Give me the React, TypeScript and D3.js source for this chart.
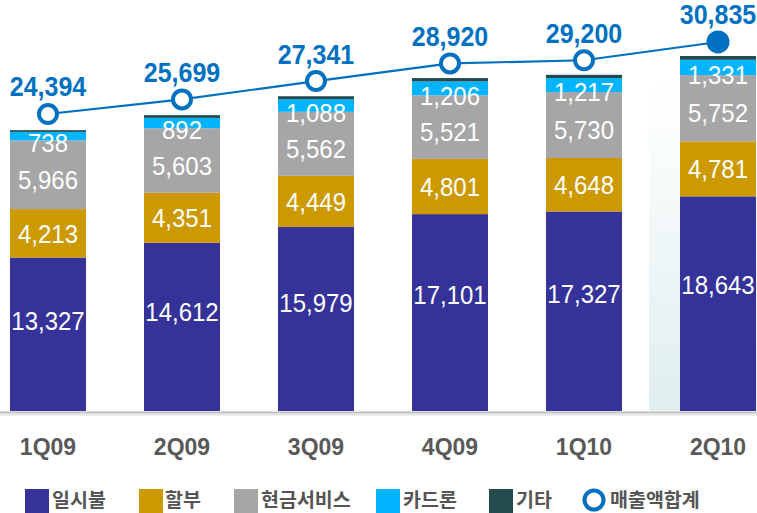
import React from 'react';
import * as d3 from 'd3';

const quarters = ['1Q09', '2Q09', '3Q09', '4Q09', '1Q10', '2Q10'];
const lumpSum = [13327, 14612, 15979, 17101, 17327, 18643]; // 일시불
const installment = [4213, 4351, 4449, 4801, 4648, 4781]; // 할부
const cashService = [5966, 5603, 5562, 5521, 5730, 5752]; // 현금서비스
const cardLoan = [738, 892, 1088, 1206, 1217, 1331]; // 카드론
const others = [150, 241, 263, 291, 278, 328]; // 기타
const totals = [24394, 25699, 27341, 28920, 29200, 30835]; // 매출액합계

const seriesNames = ['일시불', '할부', '현금서비스', '카드론', '기타'];
const seriesColors = ['#353399', '#CC9900', '#A6A6A6', '#00B4FF', '#234B4E'];
const lineName = '매출액합계';
const lineColor = '#0070C0';

const W = 757;
const H = 513;
const BASE = 411;

export default function App() {
  const x = d3.scaleBand<string>().domain(quarters).range([10, 756]).paddingInner(0.433).paddingOuter(0);
  const y = d3.scaleLinear().domain([0, 35700]).range([BASE, 0]);
  const yLine = d3.scaleLinear().domain([0, 34590]).range([386.7, 0]);

  const rows = quarters.map((q, i) => ({
    q,
    s0: lumpSum[i],
    s1: installment[i],
    s2: cashService[i],
    s3: cardLoan[i],
    s4: others[i],
  }));
  const keys = ['s0', 's1', 's2', 's3', 's4'];
  const stacked = d3.stack<any>().keys(keys)(rows);

  const fmt = d3.format(',');
  const bw = x.bandwidth();
  const lastX = x(quarters[quarters.length - 1])!;

  const linePath = d3
    .line<number>()
    .x((_, i) => x(quarters[i])! + bw / 2)
    .y((d) => yLine(d))(totals);

  const labelFont = '"Liberation Sans", Arial, Helvetica, sans-serif';
  const korFont = '"Noto Sans CJK KR", "Noto Sans", sans-serif';

  const legendItems = [
    { sq: 25, tx: 52 },
    { sq: 139, tx: 165 },
    { sq: 234, tx: 261 },
    { sq: 376, tx: 403 },
    { sq: 489, tx: 516 },
  ];

  return (
    <svg width={W} height={H} style={{ position: 'absolute', left: 0, top: 0, background: '#fff' }}>
      <defs>
        <linearGradient id="hl" x1="0" y1="0" x2="0" y2="1">
          <stop offset="0" stopColor="#ffffff" stopOpacity={0} />
          <stop offset="0.25" stopColor="#f9fcfc" />
          <stop offset="1" stopColor="#dfeeef" />
        </linearGradient>
      </defs>
      <rect x={lastX - 31} y={60} width={W - (lastX - 31)} height={BASE - 60} fill="url(#hl)" />

      {/* bars */}
      {stacked.map((layer, li) => (
        <g key={li} fill={seriesColors[li]}>
          {layer.map((d, i) => (
            <rect
              key={i}
              x={x(quarters[i])}
              y={y(d[1])}
              width={bw}
              height={y(d[0]) - y(d[1])}
            />
          ))}
        </g>
      ))}

      {/* axis line */}
      <line x1={0} x2={W} y1={412.5} y2={412.5} stroke="#bdbdbd" strokeWidth={2} />
      <line x1={0} x2={W} y1={414.5} y2={414.5} stroke="#e2e2e2" strokeWidth={2} />

      {/* segment labels */}
      {stacked.slice(0, 4).map((layer, li) => (
        <g key={'l' + li}>
          {layer.map((d, i) => {
            const top = y(d[1]);
            const bot = y(d[0]);
            let cy: number;
            if (li === 0) cy = top + 0.41 * (bot - top);
            else if (li === 1) cy = (top + bot) / 2;
            else if (li === 2) cy = (top + bot) / 2 + 5;
            else cy = (top + bot) / 2 + 7;
            const v = d[1] - d[0];
            return (
              <text
                key={i}
                transform={`translate(${x(quarters[i])! + bw / 2},${cy + 9.2}) scale(1,1.08)`}
                textAnchor="middle"
                fill="#fff"
                fontFamily={labelFont}
                fontSize={24}
              >
                {fmt(v)}
              </text>
            );
          })}
        </g>
      ))}

      {/* total line */}
      <path d={linePath || ''} fill="none" stroke={lineColor} strokeWidth={2.2} />
      {totals.map((t, i) => {
        const cx = x(quarters[i])! + bw / 2;
        const cy = yLine(t);
        const last = i === totals.length - 1;
        return (
          <g key={'p' + i}>
            {last ? (
              <circle cx={cx} cy={cy} r={11.5} fill={lineColor} />
            ) : (
              <circle cx={cx} cy={cy} r={9} fill="#fff" stroke={lineColor} strokeWidth={4} />
            )}
            <text
              transform={`translate(${cx},${cy - 17.5}) scale(1,1.08)`}
              textAnchor="middle"
              fill={lineColor}
              fontFamily={labelFont}
              fontWeight="bold"
              fontSize={25}
            >
              {fmt(t)}
            </text>
          </g>
        );
      })}

      {/* x labels */}
      {quarters.map((q) => (
        <text
          key={q}
          x={x(q)! + bw / 2}
          y={455}
          textAnchor="middle"
          fill="#595959"
          fontFamily={labelFont}
          fontWeight="bold"
          fontSize={23}
        >
          {q}
        </text>
      ))}

      {/* legend */}
      {seriesNames.map((n, i) => (
        <g key={n}>
          <rect x={legendItems[i].sq} y={489} width={24} height={24} fill={seriesColors[i]} />
          <text
            x={legendItems[i].tx}
            y={507}
            fill="#555"
            fontFamily={korFont}
            fontWeight="bold"
            fontSize={19.5}
          >
            {n}
          </text>
        </g>
      ))}
      <circle cx={594} cy={500} r={9.5} fill="#fff" stroke={lineColor} strokeWidth={4} />
      <text x={610} y={507} fill="#555" fontFamily={korFont} fontWeight="bold" fontSize={19.5}>
        {lineName}
      </text>
    </svg>
  );
}
